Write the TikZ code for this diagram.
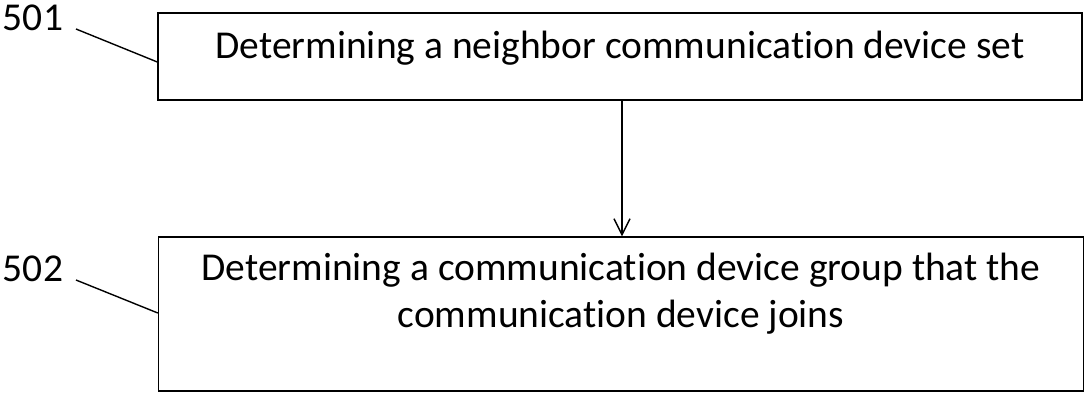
\documentclass[tikz,border=0pt]{standalone}
\usepackage{fontspec}
\setmainfont{Carlito}[Ligatures={CommonOff,RareOff}]
\usetikzlibrary{positioning, arrows.meta}

\begin{document}
\begin{tikzpicture}[
  x=1pt, y=-1pt,
  stepbox/.style={draw, line width=1.4pt, rectangle, inner sep=0pt},
  steptext/.style={inner sep=0pt, align=center, anchor=base},
  reflabel/.style={inner sep=0pt},
  every node/.style={font=\fontsize{39.5}{47}\selectfont},
  >={Straight Barb[length=16pt, width=16pt]}
]
  \useasboundingbox (0,0) rectangle (1086,393);

  % --- step boxes ---
  \node (s501) [stepbox, minimum width=924pt, minimum height=87pt] at (620,56.5) {};
  \node (t501) [below=46pt of s501.north, steptext]
    {Determining a neighbor communication device set};
  \node (s502) [stepbox, minimum width=925pt, minimum height=154pt] at (621,314) {};
  \node (t502) [below=91pt of s502.north, steptext]
    {Determining a communication device group that the\\communication device joins};

  % --- reference numerals ---
  \node (n501) [reflabel] at (33,18) {501};
  \node (n502) [reflabel] at (33,269) {502};
  \coordinate (e501) at (76,29);
  \coordinate (e502) at (76,280);

  % --- connectors ---
  \draw[line width=1.4pt] (e501) -- (s501.west |- 0,62);
  \draw[line width=1.4pt] (e502) -- (s502.west |- 0,313);
  \draw[->, line width=1.4pt] (s501.south -| 622,0) -- (s502.north -| 622,0);
\end{tikzpicture}
\end{document}
